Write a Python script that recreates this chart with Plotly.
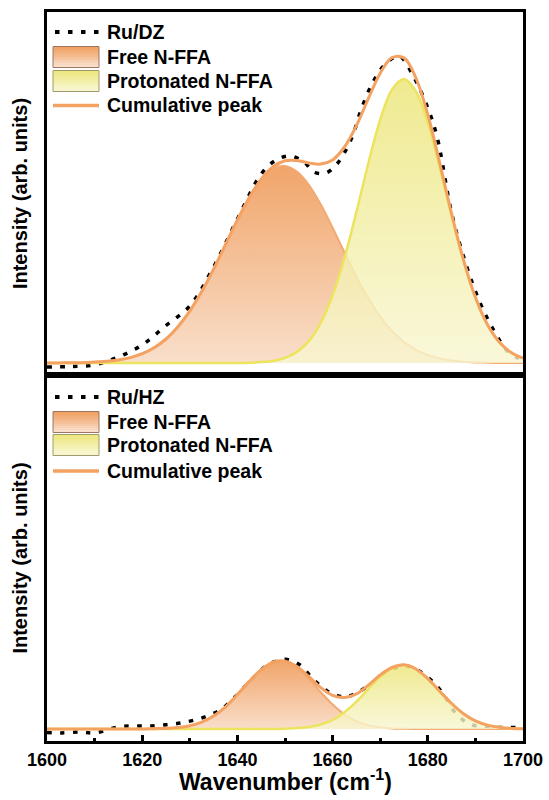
import plotly.graph_objects as go

# ---------------- data ----------------
wavenumber = [1600, 1602.5, 1605, 1607.5, 1610, 1612.5, 1615, 1617.5, 1620, 1622.5,
              1625, 1627.5, 1630, 1632.5, 1635, 1637.5, 1640, 1642.5, 1645, 1647.5,
              1650, 1652.5, 1655, 1657.5, 1660, 1662.5, 1665, 1667.5, 1670, 1672.5,
              1675, 1677.5, 1680, 1682.5, 1685, 1687.5, 1690, 1692.5, 1695, 1697.5, 1700]

# Ru/DZ panel
free_dz = [0.000, 0.000, 0.001, 0.001, 0.003, 0.006, 0.010, 0.018, 0.031, 0.051,
           0.080, 0.121, 0.173, 0.238, 0.313, 0.395, 0.477, 0.551, 0.610, 0.647,
           0.657, 0.638, 0.594, 0.529, 0.451, 0.369, 0.288, 0.216, 0.155, 0.106,
           0.070, 0.044, 0.027, 0.015, 0.008, 0.004, 0.002, 0.001, 0.000, 0.000, 0.000]
prot_dz = [0.000, 0.000, 0.000, 0.000, 0.000, 0.000, 0.000, 0.000, 0.000, 0.000,
           0.000, 0.000, 0.000, 0.000, 0.000, 0.000, 0.000, 0.001, 0.003, 0.007,
           0.017, 0.037, 0.073, 0.134, 0.226, 0.351, 0.503, 0.665, 0.811, 0.912,
           0.947, 0.906, 0.801, 0.652, 0.490, 0.340, 0.217, 0.128, 0.070, 0.035, 0.016]
cum_dz = [0.000, 0.000, 0.001, 0.001, 0.003, 0.006, 0.010, 0.018, 0.031, 0.051,
          0.080, 0.121, 0.173, 0.238, 0.313, 0.395, 0.477, 0.552, 0.613, 0.654,
          0.674, 0.675, 0.667, 0.663, 0.677, 0.720, 0.791, 0.881, 0.966, 1.018,
          1.017, 0.950, 0.828, 0.667, 0.498, 0.344, 0.219, 0.129, 0.070, 0.035, 0.016]
exp_x_dz = [1600, 1605, 1610, 1615, 1620, 1625, 1630, 1635, 1640, 1645, 1648, 1651,
            1654, 1656, 1658.5, 1661, 1664, 1666, 1668.5, 1671, 1674, 1677, 1680,
            1682, 1685, 1688, 1691, 1694, 1697, 1700]
exp_y_dz = [-0.013, -0.012, -0.006, 0.020, 0.060, 0.125, 0.190, 0.320, 0.480, 0.630,
            0.675, 0.690, 0.670, 0.637, 0.633, 0.665, 0.750, 0.845, 0.937, 0.995,
            1.022, 0.955, 0.850, 0.750, 0.500, 0.330, 0.200, 0.105, 0.035, 0.010]

# Ru/HZ panel
free_hz = [0.000, 0.000, 0.000, 0.000, 0.000, 0.000, 0.000, 0.000, 0.000, 0.001,
           0.002, 0.005, 0.011, 0.023, 0.043, 0.074, 0.115, 0.159, 0.198, 0.223,
           0.225, 0.205, 0.168, 0.123, 0.082, 0.049, 0.026, 0.013, 0.006, 0.002,
           0.001, 0.000, 0.000, 0.000, 0.000, 0.000, 0.000, 0.000, 0.000, 0.000, 0.000]
prot_hz = [0.000, 0.000, 0.000, 0.000, 0.000, 0.000, 0.000, 0.000, 0.000, 0.000,
           0.000, 0.000, 0.000, 0.000, 0.000, 0.000, 0.000, 0.000, 0.000, 0.000,
           0.001, 0.003, 0.007, 0.015, 0.030, 0.056, 0.091, 0.133, 0.174, 0.203,
           0.213, 0.200, 0.168, 0.126, 0.085, 0.051, 0.027, 0.013, 0.006, 0.002, 0.001]
cum_hz = [0.000, 0.000, 0.000, 0.000, 0.000, 0.000, 0.000, 0.000, 0.000, 0.001,
          0.002, 0.005, 0.011, 0.023, 0.043, 0.074, 0.115, 0.159, 0.198, 0.223,
          0.226, 0.208, 0.175, 0.138, 0.112, 0.105, 0.117, 0.146, 0.180, 0.205,
          0.214, 0.200, 0.168, 0.126, 0.085, 0.051, 0.027, 0.013, 0.006, 0.002, 0.001]
exp_x_hz = [1600, 1603, 1607, 1610, 1615, 1619, 1622, 1625, 1628, 1631, 1634, 1637,
            1640, 1643, 1646, 1648.5, 1650.5, 1653, 1656, 1659, 1662.5, 1665, 1668,
            1671, 1673.5, 1675.5, 1678, 1681, 1683, 1686, 1689, 1692, 1695, 1700]
exp_y_hz = [-0.012, -0.013, -0.010, -0.013, 0.007, 0.010, 0.010, 0.014, 0.020, 0.030,
            0.045, 0.070, 0.115, 0.165, 0.210, 0.228, 0.232, 0.215, 0.165, 0.125,
            0.107, 0.120, 0.150, 0.188, 0.205, 0.210, 0.195, 0.158, 0.122, 0.050,
            0.015, 0.008, 0.005, 0.005]

legend_dz = ["Ru/DZ", "Free N-FFA", "Protonated N-FFA", "Cumulative peak"]
legend_hz = ["Ru/HZ", "Free N-FFA", "Protonated N-FFA", "Cumulative peak"]
x_ticks = [1600, 1620, 1640, 1660, 1680, 1700]
x_title = "Wavenumber (cm<sup>-1</sup>)"
y_title = "Intensity (arb. units)"

# ---------------- styles ----------------
FONT = "Liberation Sans, Arial, Helvetica, sans-serif"
ORANGE_TOP = (240, 160, 98)
ORANGE_BOT = (249, 221, 200)
YELLOW_TOP = (237, 231, 128)
YELLOW_BOT = (248, 246, 208)
CUM_COLOR = "#F4A262"
DOT_DASH = "4.5px,8.5px"

W, H = 549, 800
ML, MR, MT, MB = 47, 26, 12, 59
PW = W - ML - MR
PH = H - MT - MB
TOP_H = 363
BOT_H = PH - TOP_H
split = BOT_H / PH


def rgba(c, a):
    return f"rgba({c[0]},{c[1]},{c[2]},{a})"


fig = go.Figure()


def add_panel(xa, ya, exp_x, exp_y, free, prot, cum):
    fig.add_trace(go.Scatter(x=exp_x, y=exp_y, mode="lines", xaxis=xa, yaxis=ya,
                             line=dict(color="black", width=3.5, dash=DOT_DASH, shape="spline"),
                             showlegend=False, hoverinfo="skip"))
    fig.add_trace(go.Scatter(x=wavenumber, y=free, mode="lines", xaxis=xa, yaxis=ya,
                             fill="tozeroy",
                             fillgradient=dict(type="vertical",
                                               colorscale=[[0, rgba(ORANGE_BOT, 0.95)],
                                                           [1, rgba(ORANGE_TOP, 0.95)]]),
                             line=dict(color="#F2AA72", width=2, shape="spline"),
                             showlegend=False, hoverinfo="skip"))
    fig.add_trace(go.Scatter(x=wavenumber, y=prot, mode="lines", xaxis=xa, yaxis=ya,
                             fill="tozeroy",
                             fillgradient=dict(type="vertical",
                                               colorscale=[[0, rgba(YELLOW_BOT, 0.8)],
                                                           [1, rgba(YELLOW_TOP, 0.88)]]),
                             line=dict(color="#ECE45E", width=2.5, shape="spline"),
                             showlegend=False, hoverinfo="skip"))
    fig.add_trace(go.Scatter(x=wavenumber, y=cum, mode="lines", xaxis=xa, yaxis=ya,
                             line=dict(color=CUM_COLOR, width=3, shape="spline"),
                             showlegend=False, hoverinfo="skip"))


add_panel("x", "y", exp_x_dz, exp_y_dz, free_dz, prot_dz, cum_dz)
add_panel("x2", "y2", exp_x_hz, exp_y_hz, free_hz, prot_hz, cum_hz)

axis_common = dict(showline=True, linewidth=3, linecolor="black", mirror=True,
                   showgrid=False, zeroline=False)

fig.update_layout(
    width=W, height=H,
    margin=dict(l=ML, r=MR, t=MT, b=MB, autoexpand=False),
    paper_bgcolor="white", plot_bgcolor="white",
    font=dict(family=FONT, color="black", size=18, weight="bold"),
    xaxis=dict(domain=[0, 1], anchor="y", range=[1600, 1700], showticklabels=False,
               ticks="", **axis_common),
    yaxis=dict(domain=[split, 1], anchor="x", range=[-0.04, 1.17], showticklabels=False,
               ticks="", title=dict(text=y_title, standoff=12,
                                    font=dict(size=20, family=FONT, weight="bold")),
               **axis_common),
    xaxis2=dict(domain=[0, 1], anchor="y2", range=[1600, 1700], tickvals=x_ticks,
                ticks="inside", ticklen=6, tickwidth=2.5, tickcolor="black",
                minor=dict(dtick=10, tick0=1600, ticks="inside", ticklen=3, tickwidth=2.5,
                           tickcolor="black"),
                tickfont=dict(size=18, family=FONT, weight="bold"),
                **axis_common),
    yaxis2=dict(domain=[0, split], anchor="x2", range=[-0.04, 1.18], showticklabels=False,
                ticks="", title=dict(text=y_title, standoff=12,
                                     font=dict(size=20, family=FONT, weight="bold")),
                **axis_common),
)

# x-axis title (placed as text under the bottom axis)
fig.add_annotation(text=x_title, xref="x2 domain", yref="paper", x=0.5,
                   y=-(780 - (MT + PH)) / PH, xanchor="center", yanchor="middle",
                   showarrow=False, font=dict(size=23, family=FONT, weight="bold", color="black"))


def add_legend(xref, yref, panel_h, labels, rows):
    fx = lambda px: px / PW
    fy = lambda py: 1 - py / panel_h
    sx0, sx1, tx = 6, 52, 58
    # row 0: dotted experimental line
    fig.add_shape(type="line", xref=xref, yref=yref, x0=fx(sx0 + 2), x1=fx(sx1), y0=fy(rows[0]),
                  y1=fy(rows[0]), line=dict(color="black", width=4, dash=DOT_DASH))
    # rows 1,2: gradient boxes
    for r, (ct, cb, border) in zip(rows[1:3], [(ORANGE_TOP, ORANGE_BOT, "#9C7862"),
                                             (YELLOW_TOP, YELLOW_BOT, "#A09C6A")]):
        nb = 10
        bh = 21
        for i in range(nb):
            t = i / (nb - 1)
            col = tuple(round(ct[k] + (cb[k] - ct[k]) * t) for k in range(3))
            y0 = r - bh / 2 + i * bh / nb
            fig.add_shape(type="rect", xref=xref, yref=yref, x0=fx(sx0), x1=fx(sx1),
                          y0=fy(y0), y1=fy(y0 + bh / nb + 0.3), fillcolor=rgba(col, 1),
                          line=dict(width=0), layer="above")
        fig.add_shape(type="rect", xref=xref, yref=yref, x0=fx(sx0), x1=fx(sx1),
                      y0=fy(r - bh / 2), y1=fy(r + bh / 2), line=dict(color=border, width=1),
                      fillcolor="rgba(0,0,0,0)", layer="above")
    # row 3: cumulative line
    fig.add_shape(type="line", xref=xref, yref=yref, x0=fx(sx0), x1=fx(sx1), y0=fy(rows[3]),
                  y1=fy(rows[3]), line=dict(color=CUM_COLOR, width=3.5))
    for lab, r in zip(labels, rows):
        fig.add_annotation(text=lab, xref=xref, yref=yref, x=fx(tx), y=fy(r), xanchor="left",
                           yanchor="middle", showarrow=False,
                           font=dict(size=19.5, family=FONT, weight="bold", color="black"))


add_legend("x domain", "y domain", TOP_H, legend_dz, [20, 45, 69, 93.5])
add_legend("x2 domain", "y2 domain", BOT_H, legend_hz, [22, 47, 70, 96])

fig.write_html("out.html", config={"displayModeBar": False},
               post_script="document.body.style.margin='0';document.body.style.padding='0';")
